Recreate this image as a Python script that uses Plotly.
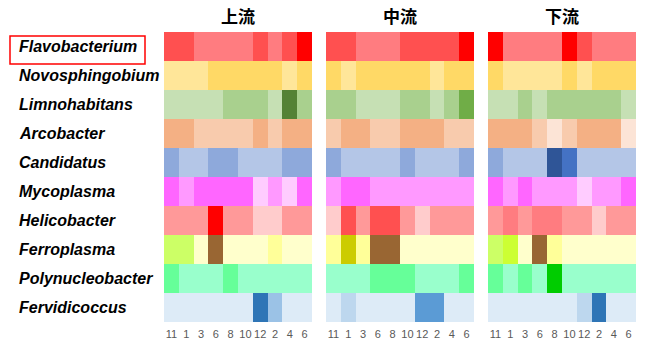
import plotly.graph_objects as go

# Sampling months (two years of surveys)
months = ["11", "1", "3", "6", "8", "10", "12", "2", "4", "6"]
sites = ["上流", "中流", "下流"]
genera = ["Flavobacterium", "Novosphingobium", "Limnohabitans", "Arcobacter",
          "Candidatus", "Mycoplasma", "Helicobacter", "Ferroplasma",
          "Polynucleobacter", "Fervidicoccus"]

# Abundance class per genus: one row per site (上流, 中流, 下流), one entry per month
flavobacterium = [[1, 1, 0, 0, 0, 0, 1, 0, 1, 2],
                  [1, 1, 0, 0, 0, 1, 1, 1, 1, 2],
                  [2, 0, 0, 0, 0, 2, 1, 0, 0, 0]]
novosphingobium = [[0, 0, 0, 1, 1, 1, 1, 1, 0, 1],
                   [1, 0, 1, 1, 1, 1, 1, 0, 1, 1],
                   [1, 0, 0, 0, 0, 1, 0, 1, 1, 1]]
limnohabitans = [[0, 0, 0, 0, 1, 1, 1, 0, 3, 1],
                 [1, 1, 0, 0, 0, 1, 1, 0, 1, 2],
                 [0, 0, 1, 0, 1, 1, 1, 1, 1, 0]]
arcobacter = [[2, 2, 1, 1, 1, 1, 2, 1, 2, 2],
              [1, 2, 2, 1, 1, 2, 2, 2, 1, 1],
              [2, 2, 2, 1, 0, 1, 2, 2, 2, 0]]
candidatus = [[1, 0, 0, 1, 1, 0, 0, 0, 1, 1],
              [1, 0, 0, 0, 0, 1, 0, 0, 0, 1],
              [1, 0, 0, 0, 3, 2, 0, 0, 0, 0]]
mycoplasma = [[2, 1, 2, 2, 2, 2, 0, 1, 0, 2],
              [1, 2, 2, 1, 1, 1, 1, 1, 1, 1],
              [2, 1, 2, 1, 1, 1, 0, 1, 1, 2]]
helicobacter = [[1, 1, 1, 4, 1, 1, 0, 0, 1, 1],
                [0, 3, 1, 3, 3, 1, 0, 1, 1, 1],
                [1, 2, 1, 2, 2, 1, 1, 0, 1, 1]]
ferroplasma = [[2, 2, 0, 5, 0, 0, 0, 1, 0, 0],
               [1, 4, 1, 5, 5, 0, 0, 0, 0, 0],
               [2, 3, 0, 5, 1, 0, 0, 0, 0, 0]]
polynucleobacter = [[1, 0, 0, 0, 1, 0, 0, 0, 0, 0],
                    [0, 0, 0, 1, 1, 1, 0, 0, 0, 1],
                    [1, 0, 1, 0, 2, 0, 0, 0, 0, 0]]
fervidicoccus = [[0, 0, 0, 0, 0, 0, 4, 2, 0, 0],
                 [0, 1, 0, 0, 0, 0, 3, 3, 0, 0],
                 [0, 0, 0, 0, 0, 0, 1, 4, 0, 0]]

abundance = [flavobacterium, novosphingobium, limnohabitans, arcobacter,
             candidatus, mycoplasma, helicobacter, ferroplasma,
             polynucleobacter, fervidicoccus]

# Colour for each abundance class, per genus
palettes = [
    ["#FF7C80", "#FF5050", "#FF0000"],
    ["#FFE699", "#FFD966"],
    ["#C6E0B4", "#A9D08E", "#70AD47", "#548235"],
    ["#FCE4D6", "#F8CBAD", "#F4B084"],
    ["#B4C6E7", "#8EA9DB", "#4472C4", "#2F5597"],
    ["#FFCCFF", "#FF99FF", "#FF66FF"],
    ["#FFCCCC", "#FF9999", "#FF7C80", "#FF5050", "#FF0000"],
    ["#FFFFCC", "#FFFF99", "#CCFF66", "#CCFF33", "#CCCC00", "#996633"],
    ["#99FFCC", "#66FF99", "#00CC00"],
    ["#DDEBF7", "#BDD7EE", "#9BC2E6", "#5B9BD5", "#2E75B6"],
]

W, H = 651, 342
panel_px = [(164, 312), (326, 474), (488, 636)]
top_px, bottom_px = 32, 322
row_h = (bottom_px - top_px) / len(genera)

fig = go.Figure()

for s, (x0, x1) in enumerate(panel_px):
    xa = "x" if s == 0 else f"x{s + 1}"
    ya = "y" if s == 0 else f"y{s + 1}"
    for g, name in enumerate(genera):
        pal = palettes[g]
        n = len(pal)
        scale = [[k / (n - 1), c] for k, c in enumerate(pal)]
        fig.add_trace(go.Heatmap(
            z=[abundance[g][s]], x=list(range(len(months))), y=[g],
            zmin=0, zmax=n - 1, colorscale=scale, showscale=False,
            xaxis=xa, yaxis=ya, name=name,
            hovertemplate=f"{name}<br>%{{x}}<extra></extra>",
        ))
    key = "" if s == 0 else str(s + 1)
    fig.layout["xaxis" + key] = dict(
        domain=[x0 / W, x1 / W], range=[-0.5, len(months) - 0.5],
        tickmode="array", tickvals=list(range(len(months))), ticktext=months,
        tickfont=dict(family="Liberation Sans, Arial", size=11, color="#595959"),
        showgrid=False, zeroline=False, showline=False, ticks="",
        ticklabelstandoff=4,
        anchor=ya, fixedrange=True,
    )
    fig.layout["yaxis" + key] = dict(
        domain=[1 - bottom_px / H, 1 - top_px / H],
        range=[len(genera) - 0.5, -0.5], showticklabels=False,
        showgrid=False, zeroline=False, showline=False, ticks="",
        anchor=xa, fixedrange=True,
    )
    fig.add_annotation(
        x=(x0 + x1) / 2 / W, y=1 - 15 / H, xref="paper", yref="paper",
        text=f"<b>{sites[s]}</b>", showarrow=False,
        font=dict(family="Noto Sans CJK JP", size=17, color="#000000"),
        xanchor="center", yanchor="middle",
    )

for g, name in enumerate(genera):
    fig.add_annotation(
        x=17 / W, y=1 - (top_px + row_h * (g + 0.5)) / H,
        xref="paper", yref="paper", text=f"<b><i>{name}</i></b>",
        showarrow=False, xanchor="left", yanchor="middle",
        font=dict(family="Liberation Sans, Arial", size=16, color="#000000"),
    )

# highlight box around the first genus label
fig.add_shape(type="rect", xref="paper", yref="paper",
              x0=10 / W, x1=145 / W, y0=1 - 64 / H, y1=1 - 36 / H,
              line=dict(color="#FF0000", width=1.5), fillcolor="rgba(0,0,0,0)")

fig.update_layout(
    width=W, height=H, margin=dict(l=0, r=0, t=0, b=0),
    paper_bgcolor="white", plot_bgcolor="white", showlegend=False,
)

fig.write_html("out.html")
